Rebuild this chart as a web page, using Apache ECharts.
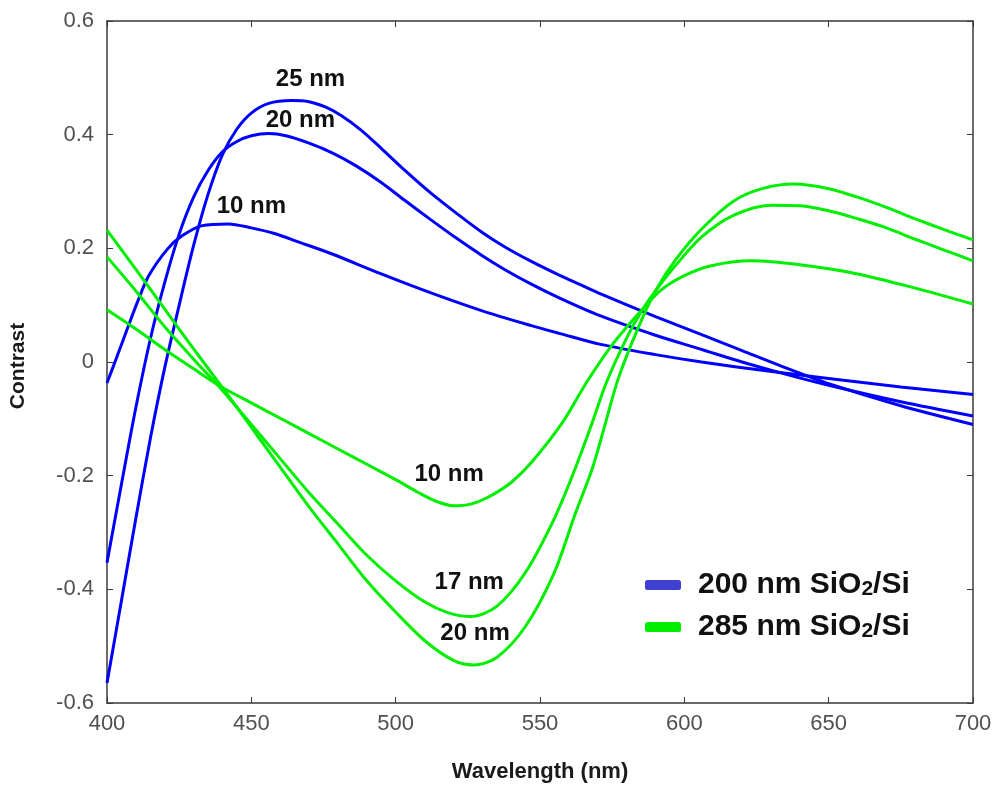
<!DOCTYPE html>
<html>
<head>
<meta charset="utf-8">
<title>Contrast vs wavelength</title>
<script src="https://cdn.jsdelivr.net/npm/echarts@6/dist/echarts.min.js"></script>
<style>
  html, body { margin: 0; padding: 0; background: #ffffff; }
  #chart { width: 1005px; height: 789px; }
</style>
</head>
<body>
<div id="chart"></div>
<script>
// Optical contrast of flakes on 200 nm and 285 nm SiO2/Si substrates
const xTicks = [400, 450, 500, 550, 600, 650, 700];
const yTicks = [-0.6, -0.4, -0.2, 0, 0.2, 0.4, 0.6];

// 200 nm SiO2/Si
const blue10X = [400, 403.5, 407, 410.5, 414.5, 421, 426, 433, 442, 450, 458, 467, 478, 495, 512, 530, 547, 557, 571, 590, 606, 629, 650, 675, 700];
const blue10Y = [-0.037, 0.01, 0.058, 0.105, 0.152, 0.199, 0.222, 0.24, 0.243, 0.236, 0.226, 0.21, 0.19, 0.155, 0.122, 0.09, 0.064, 0.05, 0.031, 0.013, 0.0, -0.016, -0.029, -0.044, -0.057];

const blue20X = [400, 405, 410, 415, 420, 425, 430, 435, 440, 445, 450, 456, 462, 470, 478, 486, 495, 503, 512, 521, 530, 538, 547, 557, 571, 590, 606, 620, 634, 650, 675, 700];
const blue20Y = [-0.353, -0.215, -0.08, 0.04, 0.14, 0.225, 0.29, 0.337, 0.37, 0.388, 0.398, 0.402, 0.398, 0.385, 0.368, 0.346, 0.316, 0.285, 0.251, 0.218, 0.187, 0.162, 0.137, 0.112, 0.081, 0.047, 0.022, 0.0, -0.02, -0.041, -0.07, -0.095];

const blue25X = [400, 405, 410, 415, 420, 425, 430, 435, 440, 445, 450, 456, 464, 470, 476, 481, 488, 495, 503, 512, 521, 530, 538, 547, 557, 564, 571, 590, 606, 620, 634, 650, 675, 700];
const blue25Y = [-0.565, -0.42, -0.275, -0.135, -0.01, 0.1, 0.205, 0.295, 0.365, 0.41, 0.438, 0.455, 0.46, 0.458, 0.448, 0.434, 0.408, 0.376, 0.338, 0.298, 0.262, 0.228, 0.202, 0.177, 0.152, 0.136, 0.12, 0.08, 0.048, 0.02, -0.008, -0.038, -0.077, -0.11];

// 285 nm SiO2/Si
const green10X = [400, 410, 420, 430, 440, 450, 460, 470, 480, 490, 500, 508, 514, 520, 526, 532, 540, 547, 558, 566, 575, 585, 592, 600, 609, 623, 640, 660, 680, 700];
const green10Y = [0.092, 0.058, 0.022, -0.012, -0.045, -0.072, -0.099, -0.126, -0.153, -0.18, -0.207, -0.23, -0.245, -0.253, -0.25, -0.238, -0.212, -0.177, -0.105, -0.037, 0.03, 0.09, 0.127, 0.152, 0.169, 0.178, 0.171, 0.155, 0.13, 0.102];

const green17X = [400, 410, 420, 430, 440, 450, 460, 470, 480, 490, 500, 510, 518, 526, 535, 545, 555, 562, 568, 573, 580, 585, 590, 597, 606, 617, 630, 640, 650, 660, 670, 680, 690, 700];
const green17Y = [0.185, 0.125, 0.062, 0.005, -0.05, -0.11, -0.17, -0.23, -0.285, -0.34, -0.385, -0.422, -0.441, -0.448, -0.43, -0.37, -0.275, -0.19, -0.108, -0.036, 0.042, 0.088, 0.125, 0.17, 0.22, 0.258, 0.276, 0.275, 0.266, 0.252, 0.236, 0.216, 0.197, 0.178];

const green20X = [400, 410, 420, 430, 440, 450, 460, 470, 480, 490, 500, 510, 520, 527, 535, 545, 555, 562, 568, 572, 577, 584, 590, 597, 606, 617, 627, 638, 650, 660, 670, 680, 690, 700];
const green20Y = [0.232, 0.163, 0.093, 0.023, -0.045, -0.115, -0.185, -0.255, -0.32, -0.385, -0.44, -0.49, -0.525, -0.533, -0.52, -0.465, -0.37, -0.27, -0.189, -0.12, -0.031, 0.06, 0.125, 0.18, 0.234, 0.283, 0.305, 0.313, 0.305, 0.29, 0.272, 0.252, 0.233, 0.215];

// Thickness annotations (text, wavelength, contrast)
const noteText = ['25 nm', '20 nm', '10 nm', '10 nm', '17 nm', '20 nm'];
const noteX = [470.5, 467, 450, 518.5, 525.5, 527.5];
const noteY = [0.497, 0.426, 0.274, -0.197, -0.388, -0.478];

const seriesNames = ['200 nm SiO2/Si', '285 nm SiO2/Si'];
const lineColors = ['#0000ff', '#00ee00'];
const legendColors = ['#4040d0', '#00ee00'];

const zip = (xs, ys) => xs.map((x, i) => [x, ys[i]]);

const curves = [
  { name: seriesNames[0], color: lineColors[0], data: zip(blue10X, blue10Y) },
  { name: seriesNames[0], color: lineColors[0], data: zip(blue20X, blue20Y) },
  { name: seriesNames[0], color: lineColors[0], data: zip(blue25X, blue25Y) },
  { name: seriesNames[1], color: lineColors[1], data: zip(green10X, green10Y) },
  { name: seriesNames[1], color: lineColors[1], data: zip(green17X, green17Y) },
  { name: seriesNames[1], color: lineColors[1], data: zip(green20X, green20Y) }
];

const axisColor = '#3a3a3a';
const fontFamily = 'Arial, "Liberation Sans", sans-serif';
const tickFont = { fontFamily: fontFamily, fontSize: 22, color: '#505050' };
const nameFont = { fontFamily: fontFamily, fontSize: 22, fontWeight: 'bold', color: '#1a1a1a' };

const chart = echarts.init(document.getElementById('chart'), null, { renderer: 'canvas' });

const series = curves.map(c => ({
  type: 'line',
  name: c.name,
  data: c.data,
  showSymbol: false,
  smooth: 0.3,
  lineStyle: { color: c.color, width: 3 },
  itemStyle: { color: c.color },
  emphasis: { disabled: true },
  silent: true,
  z: 2
}));

series.push({
  type: 'scatter',
  name: 'notes',
  data: noteText.map((t, i) => ({ name: t, value: [noteX[i], noteY[i]] })),
  symbolSize: 0,
  silent: true,
  itemStyle: { opacity: 1 },
  label: {
    show: true,
    position: 'inside',
    formatter: p => p.name,
    fontFamily: fontFamily,
    fontSize: 24,
    fontWeight: 'bold',
    color: '#111111'
  },
  z: 5
});

const legendFormatter = n => '{t|' + n.replace('SiO2', 'SiO}{s|2}{t|') + '}';

chart.setOption({
  animation: false,
  backgroundColor: '#ffffff',
  grid: { left: 105, right: 32, top: 21, bottom: 86, containLabel: false },
  legend: {
    orient: 'vertical',
    left: 640,
    top: 565,
    itemWidth: 36,
    itemHeight: 10,
    itemGap: 12,
    icon: 'roundRect',
    data: seriesNames.map((n, i) => ({ name: n, itemStyle: { color: legendColors[i] } })),
    formatter: legendFormatter,
    selectedMode: false,
    textStyle: {
      padding: [0, 0, 0, 12],
      rich: {
        t: { fontFamily: fontFamily, fontSize: 30, fontWeight: 'bold', color: '#111111' },
        s: { fontFamily: fontFamily, fontSize: 21, fontWeight: 'bold', color: '#111111', verticalAlign: 'bottom' }
      }
    }
  },
  xAxis: [
    {
      type: 'value',
      min: xTicks[0],
      max: xTicks[xTicks.length - 1],
      interval: 50,
      name: 'Wavelength (nm)',
      nameLocation: 'middle',
      nameGap: 58,
      nameTextStyle: nameFont,
      axisLine: { show: true, onZero: false, lineStyle: { color: axisColor, width: 1.5 } },
      axisTick: { show: true, inside: true, length: 6, lineStyle: { color: axisColor } },
      axisLabel: Object.assign({ margin: 10 }, tickFont),
      splitLine: { show: false }
    },
    {
      type: 'value',
      position: 'top',
      min: xTicks[0],
      max: xTicks[xTicks.length - 1],
      interval: 50,
      axisLine: { show: true, onZero: false, lineStyle: { color: axisColor, width: 1.5 } },
      axisTick: { show: true, inside: true, length: 6, lineStyle: { color: axisColor } },
      axisLabel: { show: false },
      splitLine: { show: false }
    }
  ],
  yAxis: [
    {
      type: 'value',
      min: yTicks[0],
      max: yTicks[yTicks.length - 1],
      interval: 0.2,
      name: 'Contrast',
      nameLocation: 'middle',
      nameGap: 78,
      nameRotate: 90,
      nameTextStyle: Object.assign({}, nameFont, { fontSize: 21, padding: [0, 8, 0, 0] }),
      axisLine: { show: true, onZero: false, lineStyle: { color: axisColor, width: 1.5 } },
      axisTick: { show: true, inside: true, length: 6, lineStyle: { color: axisColor } },
      axisLabel: Object.assign({ margin: 13, formatter: v => String(Math.round(v * 10) / 10) }, tickFont),
      splitLine: { show: false }
    },
    {
      type: 'value',
      position: 'right',
      min: yTicks[0],
      max: yTicks[yTicks.length - 1],
      interval: 0.2,
      axisLine: { show: true, onZero: false, lineStyle: { color: axisColor, width: 1.5 } },
      axisTick: { show: true, inside: true, length: 6, lineStyle: { color: axisColor } },
      axisLabel: { show: false },
      splitLine: { show: false }
    }
  ],
  series: series
});
</script>
</body>
</html>
